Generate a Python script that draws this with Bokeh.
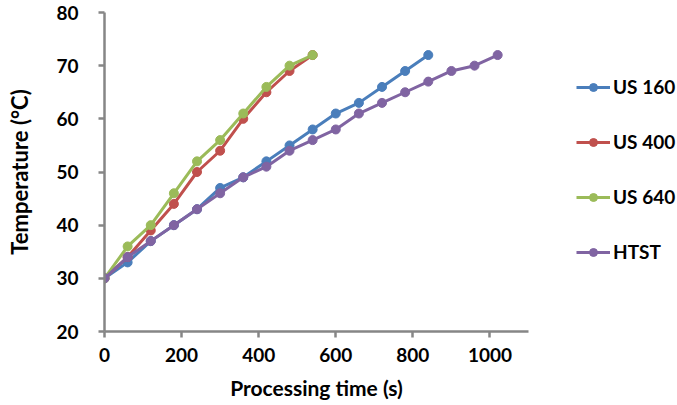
from bokeh.plotting import figure
from bokeh.models import Range1d, Legend, LegendItem, FixedTicker
from bokeh.embed import file_html
from bokeh.resources import INLINE

# ---- data ----
t_us160 = [0, 60, 120, 180, 240, 300, 360, 420, 480, 540, 600, 660, 720, 780, 840]
us160 = [30, 33, 37, 40, 43, 47, 49, 52, 55, 58, 61, 63, 66, 69, 72]
t_us400 = [0, 60, 120, 180, 240, 300, 360, 420, 480, 540]
us400 = [30, 34, 39, 44, 50, 54, 60, 65, 69, 72]
t_us640 = [0, 60, 120, 180, 240, 300, 360, 420, 480, 540]
us640 = [30, 36, 40, 46, 52, 56, 61, 66, 70, 72]
t_htst = [0, 60, 120, 180, 240, 300, 360, 420, 480, 540, 600, 660, 720, 780, 840, 900, 960, 1020]
htst = [30, 34, 37, 40, 43, 46, 49, 51, 54, 56, 58, 61, 63, 65, 67, 69, 70, 72]

x_ticks = [0, 200, 400, 600, 800, 1000]
y_ticks = [20, 30, 40, 50, 60, 70, 80]

series = [
    ("US 160", t_us160, us160, "#4A7EBB"),
    ("US 400", t_us400, us400, "#C0504D"),
    ("US 640", t_us640, us640, "#9BBB59"),
    ("HTST", t_htst, htst, "#8064A2"),
]

FONT = "Lato"
AX = "#868686"

p = figure(frame_width=424, frame_height=319, output_backend="svg", toolbar_location=None,
           x_range=Range1d(0, 1100), y_range=Range1d(20, 80),
           min_border_left=104, min_border_right=133, min_border_top=12, min_border_bottom=58)
p.outline_line_color = None
p.xgrid.grid_line_color = None
p.ygrid.grid_line_color = None

for ax in (p.xaxis[0], p.yaxis[0]):
    ax.axis_line_color = AX
    ax.axis_line_width = 2.5
    ax.major_tick_line_color = AX
    ax.major_tick_line_width = 2.5
    ax.major_tick_out = 6
    ax.major_tick_in = 0
    ax.minor_tick_line_color = None
    ax.major_label_text_font = FONT
    ax.major_label_text_font_style = "bold"
    ax.major_label_text_font_size = "19px"
    ax.major_label_text_color = "#000000"
    ax.axis_label_text_font = FONT
    ax.axis_label_text_font_style = "bold"
    ax.axis_label_text_font_size = "21px"
    ax.axis_label_text_color = "#000000"

p.xaxis.ticker = FixedTicker(ticks=x_ticks)
p.yaxis.ticker = FixedTicker(ticks=y_ticks)
p.xaxis.axis_label = "Processing time (s)"
p.yaxis.axis_label = "Temperature (°C)"
p.yaxis.axis_label_text_font_size = "22px"
p.xaxis.major_label_standoff = 10
p.xaxis.axis_label_standoff = 10
p.yaxis.major_label_standoff = 20
p.yaxis.axis_label_standoff = 20

items = []
for name, xs, ys, c in series:
    r1 = p.line(xs, ys, line_color=c, line_width=3)
    r2 = p.scatter(xs, ys, size=9, fill_color=c, line_color=c)
    items.append(LegendItem(label=name, renderers=[r1, r2]))

legend = Legend(items=items, location=(48, 68))
legend.border_line_color = None
legend.background_fill_alpha = 0
legend.margin = 0
legend.padding = 10
legend.label_text_font = FONT
legend.label_text_font_style = "bold"
legend.label_text_font_size = "19px"
legend.label_text_color = "#000000"
legend.glyph_width = 34
legend.glyph_height = 20
legend.label_height = 20
legend.spacing = 32
legend.label_standoff = 3
p.add_layout(legend, "right")

open("out.html", "w").write(file_html(p, INLINE))
